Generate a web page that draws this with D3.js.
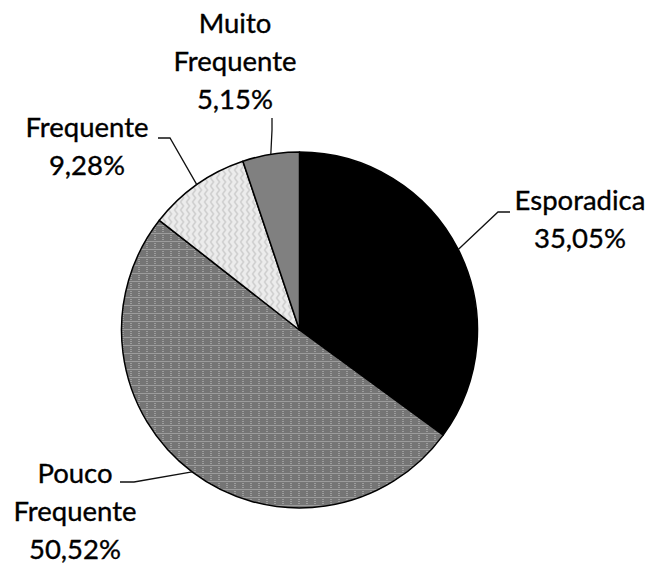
<!DOCTYPE html>
<html>
<head>
<script src="https://cdn.jsdelivr.net/npm/d3@7"></script>
<style>
    body{margin:0;background:#fff;}
    text{font-family:Lato, "Open Sans", sans-serif;fill:#000;}
</style>
</head>
<body>
<div id="chart"></div>
<script>

    // data, clockwise from 12 o'clock
    var categories = ["Esporadica","Pouco Frequente","Frequente","Muito Frequente"]
    var values = [35.05,50.52,9.28,5.15]
    var valueLabels = ["35,05%","50,52%","9,28%","5,15%"]
    var nameLines = [["Esporadica"],["Pouco","Frequente"],["Frequente"],["Muito","Frequente"]]

    var width = 654, height = 565
    var cx = 299.5, cy = 330, radius = 178
    var fontSize = 27.5, lineH = 38

    // label layout: text centre x, first baseline y, elbow and end of leader
    var layout = [
        {x:580, y:210, elbow:[498,212], end:[510,212]},
        {x:75,  y:483, elbow:[134,482], end:[120,482]},
        {x:87,  y:137, elbow:[170,138], end:[158,138]},
        {x:235, y:33,  elbow:[272,130], end:[272,118]}
    ]

    var fills = ["#000","url(#dots)","url(#zig)","#808080"]

    var svg = d3.select("#chart").append("svg")
        .attr("width",width).attr("height",height)

    var defs = svg.append("defs")

    var dots = defs.append("pattern").attr("id","dots")
        .attr("patternUnits","userSpaceOnUse").attr("width",8).attr("height",8)
    dots.append("rect").attr("width",8).attr("height",8).attr("fill","#9c9c9c")
    for(var i=0;i<8;i++){
        for(var j=0;j<8;j++){
            if((i+j)%2==0 && i!=7 && j!=7){
                dots.append("rect").attr("x",i).attr("y",j).attr("width",1).attr("height",1).attr("fill","#4e4e4e")
            }
        }
    }

    var zig = defs.append("pattern").attr("id","zig")
        .attr("patternUnits","userSpaceOnUse").attr("width",6).attr("height",8)
    zig.append("rect").attr("width",6).attr("height",8).attr("fill","#ececec")
    zig.append("path").attr("d","M1,0 L4,4 L1,8").attr("fill","none")
        .attr("stroke","#c2c2c2").attr("stroke-width",1.2)

    var pie = d3.pie().sort(null).value(function(d){return d})
    var arc = d3.arc().innerRadius(0).outerRadius(radius)
    var arcs = pie(values)

    var g = svg.append("g").attr("transform","translate("+cx+","+cy+")")

    g.selectAll("path.slice")
        .data(arcs)
        .enter()
        .append("path")
        .attr("class","slice")
        .attr("d",arc)
        .attr("fill",function(d,i){return fills[i]})
        .attr("stroke","#000")
        .attr("stroke-width",1.5)
        .attr("stroke-linejoin","round")

    // leader lines from the middle of each slice's edge
    svg.selectAll("polyline.leader")
        .data(arcs)
        .enter()
        .append("polyline")
        .attr("class","leader")
        .attr("points",function(d,i){
            var a = (d.startAngle+d.endAngle)/2
            var px = cx+radius*Math.sin(a)
            var py = cy-radius*Math.cos(a)
            var l = layout[i]
            return [[px,py],l.elbow,l.end].map(function(p){return p.join(",")}).join(" ")
        })
        .attr("fill","none")
        .attr("stroke","#111")
        .attr("stroke-width",1.3)

    var labels = svg.selectAll("text.label")
        .data(arcs)
        .enter()
        .append("text")
        .attr("class","label")
        .attr("text-anchor","middle")
        .attr("font-size",fontSize)
        .attr("stroke","#000")
        .attr("stroke-width",0.35)

    labels.each(function(d,i){
        var lines = nameLines[i].concat([valueLabels[i]])
        var t = d3.select(this)
        lines.forEach(function(s,k){
            t.append("tspan")
                .attr("x",layout[i].x)
                .attr("y",layout[i].y+k*lineH)
                .text(s)
        })
    })

</script>
</body>
</html>
